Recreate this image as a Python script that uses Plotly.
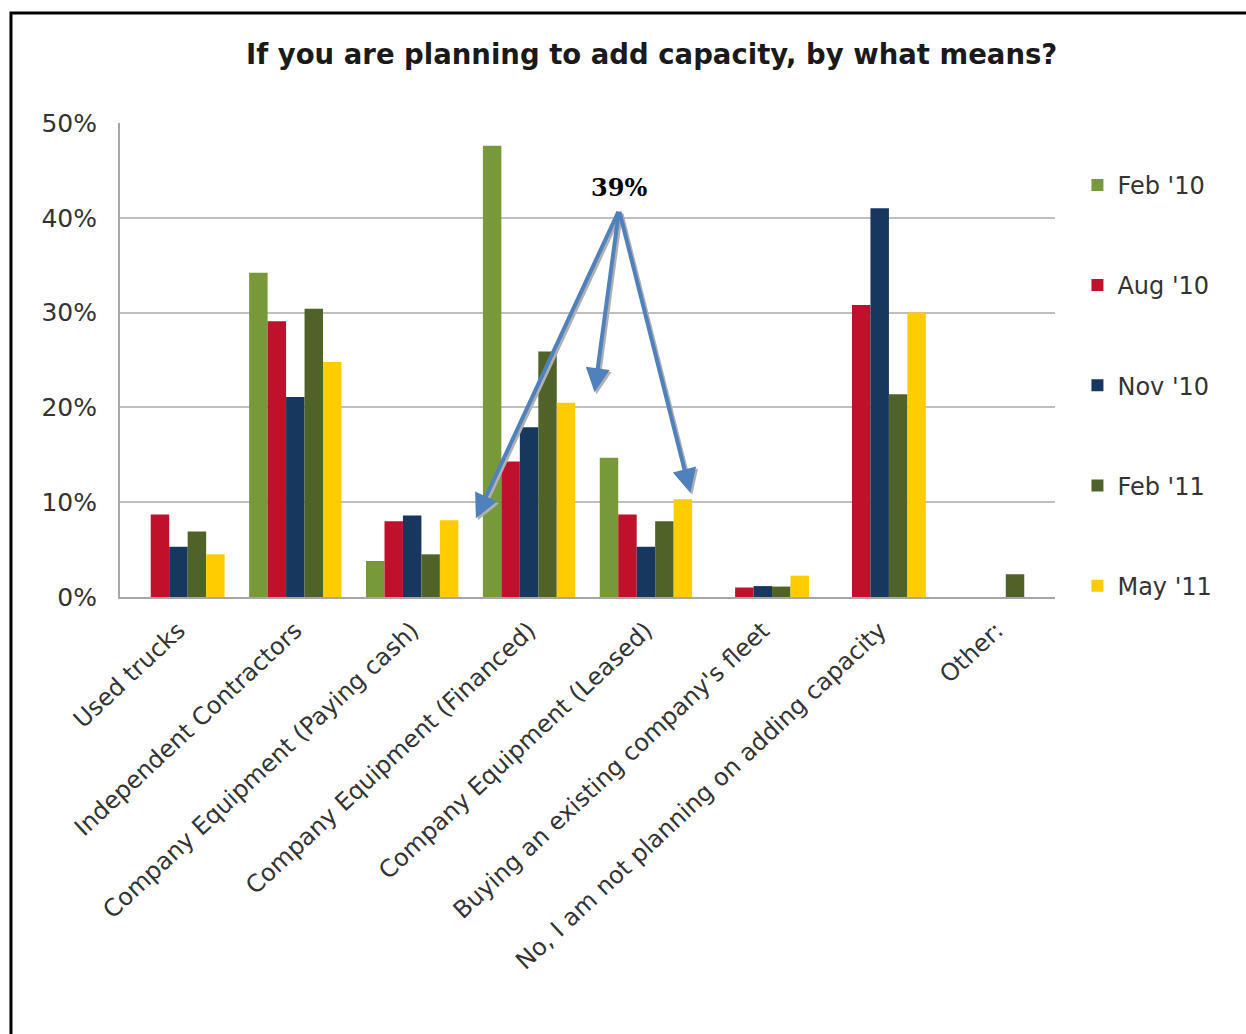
import plotly.graph_objects as go

categories = [
    "Used trucks",
    "Independent Contractors",
    "Company Equipment (Paying cash)",
    "Company Equipment (Financed)",
    "Company Equipment (Leased)",
    "Buying an existing company's fleet",
    "No, I am not planning on adding capacity",
    "Other:",
]
series_names = ["Feb '10", "Aug '10", "Nov '10", "Feb '11", "May '11"]
series_colors = ["#77993A", "#C0102C", "#17375E", "#4F6228", "#FFCC00"]

feb10 = [None, 0.342, 0.038, 0.476, 0.147, None, None, None]
aug10 = [0.087, 0.291, 0.080, 0.143, 0.087, 0.010, 0.308, None]
nov10 = [0.053, 0.211, 0.086, 0.179, 0.053, 0.0115, 0.410, None]
feb11 = [0.069, 0.304, 0.045, 0.259, 0.080, 0.011, 0.214, 0.024]
may11 = [0.045, 0.248, 0.081, 0.205, 0.103, 0.0225, 0.300, None]
series_values = [feb10, aug10, nov10, feb11, may11]

FONT = "DejaVu Sans"

fig = go.Figure()
for i, (name, vals, col) in enumerate(zip(series_names, series_values, series_colors)):
    fig.add_trace(go.Bar(
        x=categories, y=vals, name=name, marker_color=col,
        marker_line_width=0, legendgroup=f"g{i}",
    ))

# annotation: 39% with three arrows
label_pos = (3.77, 0.432)
tail = (3.77, 0.408)
heads = [(2.545, 0.083), (3.56, 0.216), (4.38, 0.110)]
for hx, hy in heads:
    fig.add_annotation(x=hx, y=hy, ax=tail[0], ay=tail[1], xref="x", yref="y",
                       axref="x", ayref="y", text="", showarrow=True,
                       arrowhead=2, arrowsize=1.2, arrowwidth=4,
                       arrowcolor="#B0B0B0", xshift=2, yshift=-2)
for hx, hy in heads:
    fig.add_annotation(x=hx, y=hy, ax=tail[0], ay=tail[1], xref="x", yref="y",
                       axref="x", ayref="y", text="", showarrow=True,
                       arrowhead=2, arrowsize=1.2, arrowwidth=4,
                       arrowcolor="#4F81BD")
fig.add_annotation(x=label_pos[0], y=label_pos[1], xref="x", yref="y",
                   text="<b>39%</b>", showarrow=False,
                   font=dict(family="DejaVu Serif", size=24, color="#000000"))

# outer frame
fig.add_shape(type="rect", xref="paper", yref="paper",
              x0=-0.1166, x1=1.4, y0=-1.2, y1=1.232,
              line=dict(color="#000000", width=3), fillcolor="rgba(0,0,0,0)")

fig.update_layout(
    width=1246, height=1034,
    margin=dict(l=120, r=191, t=123, b=437),
    paper_bgcolor="#FFFFFF", plot_bgcolor="#FFFFFF",
    barmode="group", bargap=0.21, bargroupgap=0,
    title=dict(text="<b>If you are planning to add capacity, by what means?</b>",
               x=0.523, xanchor="center", y=0.947, yanchor="middle",
               font=dict(family=FONT, size=27.5, color="#1A1A1A")),
    font=dict(family=FONT, color="#404040"),
    legend=dict(x=1.024, xanchor="left", y=0.916, yanchor="top",
                traceorder="grouped", tracegroupgap=66,
                font=dict(family=FONT, size=24, color="#333333"),
                bgcolor="rgba(0,0,0,0)"),
    showlegend=True,
)
fig.update_xaxes(type="category", tickangle=-43, showline=True,
                 linecolor="#A6A6A6", linewidth=2, showgrid=False,
                 ticks="", ticklabelstandoff=8,
                 tickfont=dict(family=FONT, size=24, color="#333333"))
fig.update_yaxes(range=[0, 0.5], dtick=0.1, tickformat=".0%",
                 showgrid=True, gridcolor="#BFBFBF", gridwidth=1.5,
                 showline=True, linecolor="#A6A6A6", linewidth=2,
                 zeroline=False, ticks="", ticklabelstandoff=16,
                 tickfont=dict(family=FONT, size=25, color="#333333"))

fig.write_html("out.html")
